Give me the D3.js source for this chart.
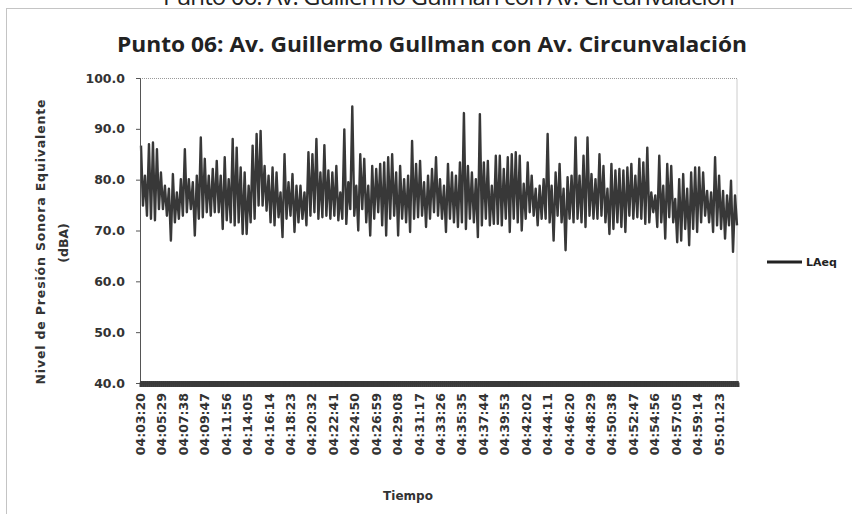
<!DOCTYPE html>
<html>
<head>
<meta charset="utf-8">
<script src="https://cdn.jsdelivr.net/npm/d3@7"></script>
<style>
    body { margin: 0; background: white; }
    .tick text { font-family: "DejaVu Sans", sans-serif; font-weight: bold; fill: #333; }
    .line { fill: none; stroke: #383838; stroke-width: 2.4px; stroke-linejoin: round; }
</style>
</head>
<body>
<div id="chart"></div>
<script>
    // time labels shown on the category axis (every 129 s)
    var timeLabels = ["04:03:20", "04:05:29", "04:07:38", "04:09:47", "04:11:56", "04:14:05", "04:16:14",
        "04:18:23", "04:20:32", "04:22:41", "04:24:50", "04:26:59", "04:29:08", "04:31:17",
        "04:33:26", "04:35:35", "04:37:44", "04:39:53", "04:42:02", "04:44:11", "04:46:20",
        "04:48:29", "04:50:38", "04:52:47", "04:54:56", "04:57:05", "04:59:14", "05:01:23"];
    var labelStep = 129;      // seconds between labels
    var totalSeconds = 3600;  // 04:03:20 -> 05:03:20
    var sampleStep = 12;      // seconds between values below

    var yTicks = [40, 50, 60, 70, 80, 90, 100];

    // LAeq (dBA)
    var laeq = [
        86.7, 74.9, 80.8, 72.9, 87.0, 72.3, 87.3, 72.0, 86.0, 74.2, 81.4, 74.2, 78.8, 72.9, 78.2, 68.0, 81.1, 71.6, 77.5, 72.3,
        80.1, 72.9, 86.0, 73.6, 80.1, 74.2, 79.5, 69.0, 80.8, 72.3, 88.3, 72.6, 84.1, 73.6, 80.8, 72.9, 82.1, 73.6, 83.7, 73.6,
        80.8, 70.3, 84.4, 72.0, 80.1, 71.6, 88.0, 71.0, 86.3, 71.6, 82.4, 69.3, 81.4, 69.3, 78.8, 71.6, 86.7, 72.3, 89.0, 74.9,
        89.6, 74.9, 82.7, 73.9, 80.8, 71.6, 82.4, 71.0, 81.4, 72.6, 77.5, 68.7, 85.0, 72.3, 79.5, 72.9, 81.1, 69.7, 78.8, 71.6,
        78.8, 72.3, 77.5, 71.0, 85.4, 72.9, 85.0, 73.6, 88.0, 72.3, 81.4, 72.6, 86.8, 72.9, 81.8, 72.3, 81.4, 72.9, 82.7, 72.0,
        77.5, 72.3, 89.9, 71.3, 79.5, 74.2, 94.4, 72.9, 78.8, 70.0, 85.0, 74.2, 84.1, 71.6, 78.8, 69.0, 82.7, 72.3, 82.1, 73.6,
        83.1, 71.0, 83.4, 69.0, 84.4, 72.3, 85.0, 72.9, 81.4, 69.0, 82.7, 72.3, 80.1, 71.6, 80.8, 69.7, 87.6, 72.3, 83.1, 72.6,
        83.7, 72.9, 79.5, 70.7, 80.8, 72.3, 82.1, 73.6, 84.4, 72.9, 80.1, 72.3, 78.8, 69.7, 83.1, 72.3, 81.4, 71.6, 80.8, 70.7,
        83.4, 71.6, 93.1, 70.3, 82.7, 72.3, 81.4, 71.6, 80.1, 68.7, 92.9, 71.0, 83.4, 72.3, 83.7, 71.0, 78.8, 71.3, 84.7, 71.3,
        84.7, 71.0, 82.1, 72.3, 84.4, 69.7, 85.0, 72.3, 85.4, 71.6, 84.7, 70.0, 79.2, 72.3, 83.4, 73.6, 80.8, 72.9, 78.2, 71.0,
        78.8, 72.3, 80.1, 72.3, 89.0, 71.6, 78.8, 68.0, 81.4, 72.9, 83.1, 71.6, 78.2, 66.1, 80.5, 72.3, 80.8, 71.6, 88.3, 72.3,
        80.8, 71.6, 84.7, 70.7, 88.3, 72.9, 81.1, 72.3, 80.1, 72.3, 85.0, 72.9, 82.7, 71.6, 78.2, 69.3, 83.1, 70.3, 81.8, 71.6,
        82.1, 70.7, 81.8, 69.7, 82.4, 72.9, 83.1, 72.3, 80.8, 72.6, 84.1, 72.3, 83.4, 71.3, 86.3, 71.6, 77.5, 73.6, 76.9, 70.7,
        84.7, 71.6, 78.8, 68.4, 83.1, 72.6, 82.7, 71.6, 76.2, 67.7, 80.1, 68.0, 81.1, 70.3, 78.2, 67.1, 81.4, 70.3, 82.4, 69.7,
        82.4, 71.6, 81.4, 72.9, 77.8, 71.6, 77.5, 69.7, 84.4, 71.0, 80.8, 70.3, 77.8, 68.4, 76.9, 71.0, 79.8, 65.8, 76.9, 71.0
    ];

    var title = "Punto 06: Av. Guillermo Gullman con Av. Circunvalación";

    var margin = {top: 78, right: 114, bottom: 131, left: 140},
        width = 852 - margin.left - margin.right,
        height = 514 - margin.top - margin.bottom;

    var svg = d3.select("#chart").append("svg")
        .attr("width", 852)
        .attr("height", 514)
        .style("display", "block");

    svg.append("rect").attr("width", 852).attr("height", 514).attr("fill", "white");

    // title of the page above (cut off at the top, as in the scan)
    svg.append("text")
        .attr("x", 449).attr("y", 5)
        .attr("text-anchor", "middle")
        .attr("textLength", 572)
        .style("font-family", "'Open Sans', sans-serif")
        .style("font-size", "24px")
        .attr("fill", "#222")
        .text(title);

    // dotted chart border
    svg.append("rect")
        .attr("x", 6.5).attr("y", 8.5)
        .attr("width", 900).attr("height", 600)
        .attr("fill", "none")
        .attr("stroke", "#888")
        .attr("stroke-dasharray", "1,1");

    // chart title
    svg.append("text")
        .attr("x", 432).attr("y", 52)
        .attr("text-anchor", "middle")
        .attr("textLength", 630)
        .attr("lengthAdjust", "spacingAndGlyphs")
        .style("font-family", "'Open Sans', sans-serif")
        .style("font-weight", "bold")
        .style("font-size", "21px")
        .attr("fill", "#222")
        .text(title);

    var g = svg.append("g")
        .attr("transform", "translate(" + margin.left + "," + margin.top + ")");

    var x = d3.scaleLinear().domain([0, totalSeconds]).range([0, width]);
    var y = d3.scaleLinear().domain([40, 100]).range([height, 0]);

    // dotted plot area border (top and right)
    g.append("path")
        .attr("d", "M0,0.5H" + (width - 1) + "V" + height)
        .attr("fill", "none")
        .attr("stroke", "#999")
        .attr("stroke-dasharray", "1,1");

    // the series
    var valueline = d3.line()
        .x(function (d, i) { return x(sampleStep / 2 + i * sampleStep); })
        .y(function (d) { return y(d); });

    g.append("path")
        .datum(laeq)
        .attr("class", "line")
        .attr("d", valueline);

    // y axis
    var yAxis = g.append("g")
        .call(d3.axisLeft(y).tickValues(yTicks).tickFormat(d3.format(".1f")).tickSize(4).tickPadding(11));
    yAxis.select(".domain").attr("stroke", "#555");
    yAxis.selectAll(".tick line").attr("stroke", "#555");
    yAxis.selectAll(".tick text").style("font-size", "12.5px");

    // dense category ticks on the x axis (one per sample)
    var sampleTimes = laeq.map(function (d, i) { return sampleStep / 2 + i * sampleStep; });
    var xTicks = g.append("g")
        .attr("transform", "translate(0," + height + ")")
        .call(d3.axisBottom(x).tickValues(sampleTimes).tickSize(4).tickFormat(""));
    xTicks.select(".domain").attr("stroke", "#444").attr("stroke-width", 2);
    xTicks.selectAll(".tick line").attr("stroke", "#3a3a3a").attr("stroke-width", 2.6).attr("y1", -2);

    // time labels
    var labelTimes = timeLabels.map(function (d, i) { return i * labelStep + 0.5; });
    var xLabels = g.append("g")
        .attr("transform", "translate(0," + height + ")")
        .call(d3.axisBottom(x).tickValues(labelTimes)
            .tickFormat(function (d, i) { return timeLabels[i]; }).tickSize(0));
    xLabels.select(".domain").remove();
    xLabels.selectAll(".tick text")
        .style("font-size", "12.5px")
        .attr("text-anchor", "end")
        .attr("transform", "rotate(-90)")
        .attr("x", -10)
        .attr("y", 0)
        .attr("dy", "0.35em");

    // axis titles
    svg.append("text")
        .attr("transform", "translate(45,242) rotate(-90)")
        .attr("text-anchor", "middle")
        .style("font-family", "'DejaVu Sans', sans-serif")
        .style("font-weight", "bold")
        .style("font-size", "12.5px")
        .attr("fill", "#333")
        .attr("textLength", 285)
        .text("Nivel de Presión Sonora Equivalente");
    svg.append("text")
        .attr("transform", "translate(68,243) rotate(-90)")
        .attr("text-anchor", "middle")
        .style("font-family", "'DejaVu Sans', sans-serif")
        .style("font-weight", "bold")
        .style("font-size", "12.5px")
        .attr("fill", "#333")
        .text("(dBA)");
    svg.append("text")
        .attr("x", 408).attr("y", 500)
        .attr("text-anchor", "middle")
        .style("font-family", "'DejaVu Sans', sans-serif")
        .style("font-weight", "bold")
        .style("font-size", "12px")
        .attr("fill", "#333")
        .text("Tiempo");

    // legend
    var legend = svg.append("g").attr("transform", "translate(767,262)");
    legend.append("line")
        .attr("x1", 0).attr("x2", 35)
        .attr("stroke", "#222").attr("stroke-width", 3);
    legend.append("text")
        .attr("x", 39).attr("dy", "0.35em")
        .style("font-family", "'DejaVu Sans', sans-serif")
        .style("font-weight", "bold")
        .style("font-size", "11px")
        .attr("fill", "#222")
        .text("LAeq");
</script>
</body>
</html>
